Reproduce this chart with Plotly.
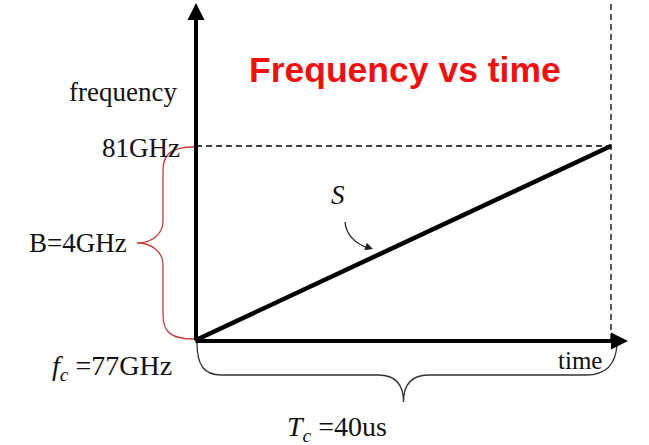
import plotly.graph_objects as go

# ---- data ----
time_us = [0, 40]          # chirp duration Tc = 40 us
freq_ghz = [77, 81]        # fc = 77 GHz, fc + B = 81 GHz
title_text = "Frequency vs time"
x_label = "time"
y_label = "frequency"
top_tick = "81GHz"
bw_label = "B=4GHz"
fc_label = "<i>f</i><sub><i>c</i></sub> =77GHz"
tc_label = "<i>T</i><sub><i>c</i></sub> =40us"
slope_label = "<i>S</i>"

W, H = 649, 445
# pixel anchors of the data frame
PX0, PX1 = 196, 611
PY0, PY1 = 340, 146
sx = (time_us[1] - time_us[0]) / (PX1 - PX0)
sy = (freq_ghz[1] - freq_ghz[0]) / (PY0 - PY1)
xr = [time_us[0] - PX0 * sx, time_us[1] + (W - PX1) * sx]
yr = [freq_ghz[0] - (H - PY0) * sy, freq_ghz[1] + PY1 * sy]

def X(dpx, base=None):
    b = time_us[0] if base is None else base
    return b + dpx * sx

def Y(dpy, base=None):
    b = freq_ghz[0] if base is None else base
    return b - dpy * sy   # dpy positive = downward in pixels

t0, t1 = time_us
f0, f1 = freq_ghz
tm = (t0 + t1) / 2
fm = (f0 + f1) / 2

fig = go.Figure()

# main chirp line
fig.add_trace(go.Scatter(x=time_us, y=freq_ghz, mode="lines",
                         line=dict(color="black", width=4.5),
                         hoverinfo="skip", showlegend=False))

shapes = []
# dashed guides
shapes.append(dict(type="line", xref="x", yref="y", x0=t0, x1=t1, y0=f1, y1=f1,
                   line=dict(color="black", width=1.3, dash="6px,4px")))
shapes.append(dict(type="line", xref="x", yref="y", x0=t1, x1=t1, y0=f0, y1=yr[1],
                   line=dict(color="black", width=1.3, dash="6px,4px")))

def p(x, y):
    return f"{x},{y}"

# red brace (left of y axis) for bandwidth
xb = X(-33)   # vertical stem
xt = X(-59)   # tip
rb = "M " + p(X(-2), f1 - 1 * sy) + \
     " C " + p(X(-25), f1 - 1 * sy) + " " + p(xb, f1 - 8 * sy) + " " + p(xb, f1 - 25 * sy) + \
     " L " + p(xb, fm + 22 * sy) + \
     " C " + p(xb, fm + 8 * sy) + " " + p(X(-45), fm) + " " + p(xt, fm) + \
     " C " + p(X(-45), fm) + " " + p(xb, fm - 8 * sy) + " " + p(xb, fm - 22 * sy) + \
     " L " + p(xb, f0 + 25 * sy) + \
     " C " + p(xb, f0 + 8 * sy) + " " + p(X(-25), f0 + 1 * sy) + " " + p(X(-2), f0 + 1 * sy)
shapes.append(dict(type="path", xref="x", yref="y", path=rb,
                   line=dict(color="#c0403a", width=1.3)))

# black brace below time axis
yb = Y(35)
ytip = Y(62)
bb = "M " + p(X(1), Y(3)) + \
     " C " + p(X(1), Y(25)) + " " + p(X(8), yb) + " " + p(X(25), yb) + \
     " L " + p(tm - 25 * sx, yb) + \
     " C " + p(tm - 8 * sx, yb) + " " + p(tm, Y(45)) + " " + p(tm, ytip) + \
     " C " + p(tm, Y(45)) + " " + p(tm + 8 * sx, yb) + " " + p(tm + 25 * sx, yb) + \
     " L " + p(X(-25, t1), yb) + \
     " C " + p(X(-5, t1), yb) + " " + p(X(5, t1), Y(25)) + " " + p(X(6, t1), Y(4))
shapes.append(dict(type="path", xref="x", yref="y", path=bb,
                   line=dict(color="#333333", width=1.3)))

# curved pointer from S to the line
sp = "M " + p(X(149), Y(-118)) + " C " + p(X(150), Y(-105)) + " " + \
     p(X(160), Y(-96)) + " " + p(X(172), Y(-92))
shapes.append(dict(type="path", xref="x", yref="y", path=sp,
                   line=dict(color="#222222", width=1.3)))

fig.update_layout(shapes=shapes)

ann = []
# axes with arrows
ann.append(dict(x=t0, y=yr[1] - 3 * sy, ax=t0, ay=f0 - 2 * sy, xref="x", yref="y",
                axref="x", ayref="y", showarrow=True, arrowhead=2, arrowsize=0.85,
                arrowwidth=4, arrowcolor="black", text=""))
ann.append(dict(x=X(432), y=Y(1), ax=X(-2), ay=Y(1), xref="x", yref="y",
                axref="x", ayref="y", showarrow=True, arrowhead=2, arrowsize=0.85,
                arrowwidth=4, arrowcolor="black", text=""))
# pointer head
ann.append(dict(x=X(177), y=Y(-91), ax=X(168), ay=Y(-94), xref="x", yref="y",
                axref="x", ayref="y", showarrow=True, arrowhead=2, arrowsize=1.2,
                arrowwidth=1.3, arrowcolor="#222222", text=""))

serif = "Liberation Serif, Times New Roman, serif"
def txt(x, y, s, size=21, xanchor="center", color="#111111", family=serif):
    ann.append(dict(x=x, y=y, xref="x", yref="y", text=s, showarrow=False,
                    xanchor=xanchor, yanchor="middle",
                    font=dict(family=family, size=size, color=color)))

txt(X(-17), Y(-248), y_label, xanchor="right", size=27)
txt(X(-14), f1 - 2 * sy, top_tick, xanchor="right", size=27)
txt(X(-67), fm, bw_label, xanchor="right", size=27)
txt(X(-22), Y(27), fc_label, xanchor="right", size=28)
txt(X(408, t0), Y(20), x_label, xanchor="right", size=25)
txt(X(141), Y(88), tc_label, size=28)
txt(X(142), Y(-145), slope_label, size=27)
txt(X(209), Y(-270), "<b>" + title_text + "</b>", size=35.5, color="#ee1111",
    family="Liberation Sans, Arial, sans-serif")

fig.update_layout(annotations=ann)

fig.update_xaxes(range=xr, visible=False, fixedrange=True)
fig.update_yaxes(range=yr, visible=False, fixedrange=True)
fig.update_layout(width=W, height=H, margin=dict(l=0, r=0, t=0, b=0),
                  plot_bgcolor="white", paper_bgcolor="white", showlegend=False)

fig.write_html("out.html", post_script="document.body.style.margin='0';",
               config={"displayModeBar": False})
